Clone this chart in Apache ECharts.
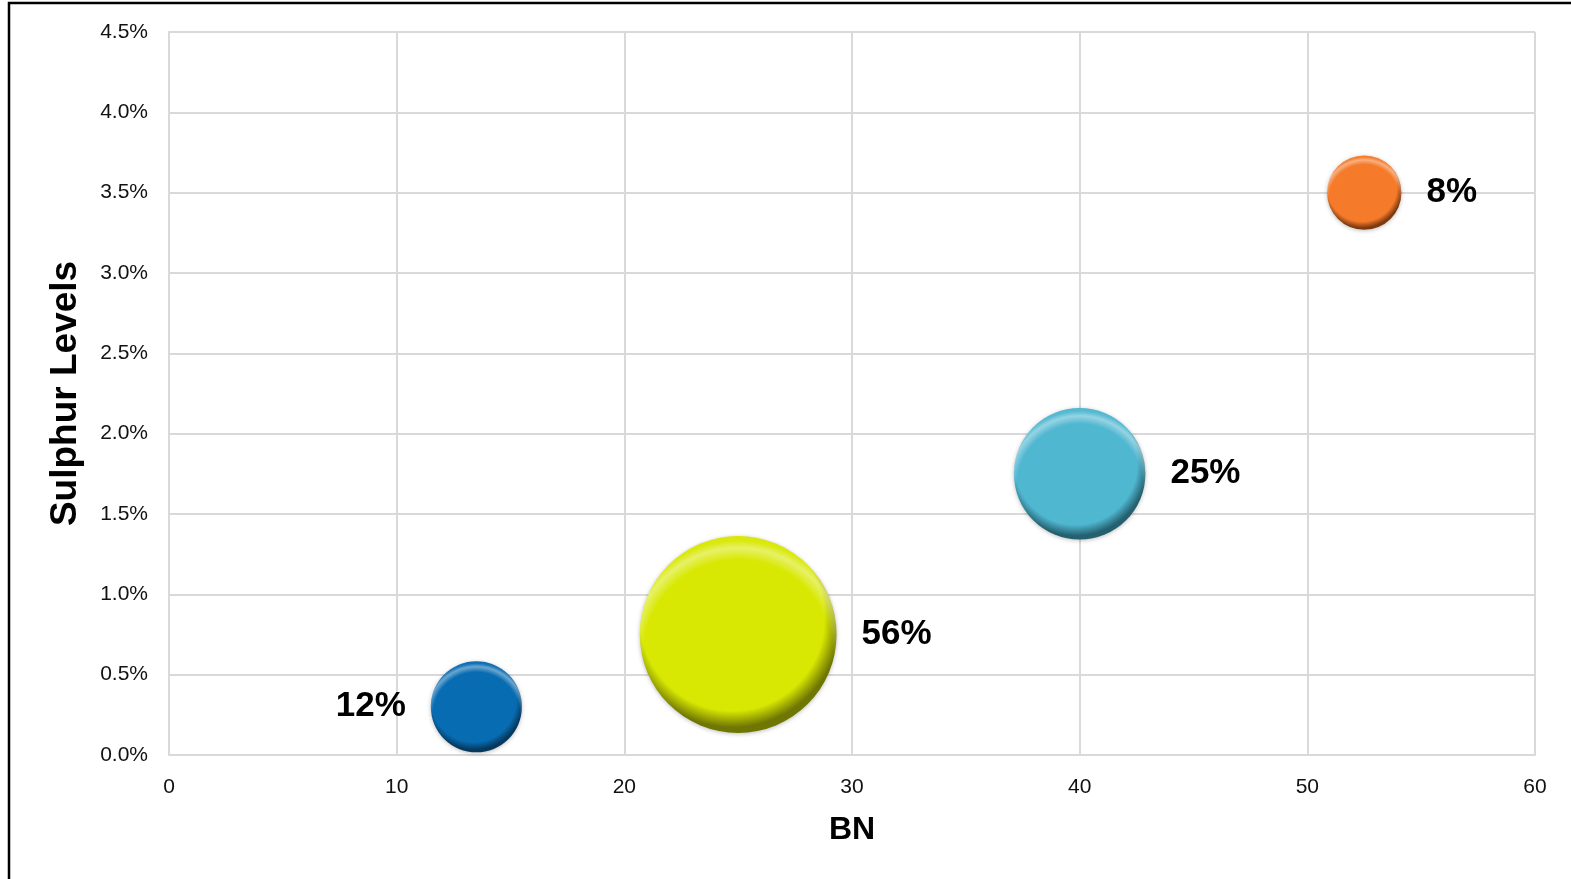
<!DOCTYPE html>
<html>
<head>
<meta charset="utf-8">
<title>BN vs Sulphur Levels</title>
<script src="https://cdn.jsdelivr.net/npm/echarts@6/dist/echarts.min.js"></script>
<style>
  html, body { margin: 0; padding: 0; background: #ffffff; }
  #chart { width: 1571px; height: 879px; }
</style>
</head>
<body>
<div id="chart"></div>
<script>
// Base number (x), sulphur content in % (y) and market share in % (bubble area)
const bnValues = [13.5, 25, 40, 52.5];
const sulphurPct = [0.3, 0.75, 1.75, 3.5];
const sharePct = [12, 56, 25, 8];

// Styling per bubble
const baseColors = ['#086cb2', '#d8e803', '#50b7d1', '#f57b2b'];
const edgeColors = ['#05395e', '#6f7602', '#24606f', '#7e3a0e'];
const labelSide = ['left', 'right', 'right', 'right'];

const diameterScale = 26.3; // bubble area proportional to share

const chart = echarts.init(document.getElementById('chart'));

const points = bnValues.map((bn, i) => [bn, sulphurPct[i], sharePct[i]]);

const baseData = points.map((p, i) => ({
  value: p,
  itemStyle: {
    color: {
      type: 'radial', x: 0.47, y: 0.42, r: 0.6,
      colorStops: [
        { offset: 0, color: baseColors[i] },
        { offset: 0.78, color: baseColors[i] },
        { offset: 0.92, color: edgeColors[i] },
        { offset: 1, color: edgeColors[i] }
      ]
    }
  },
  label: { position: labelSide[i] }
}));

const shineData = points.map((p) => ({
  value: p,
  itemStyle: {
    color: {
      type: 'radial', x: 0.5, y: 0.6, r: 0.6,
      colorStops: [
        { offset: 0, color: 'rgba(255,255,255,0)' },
        { offset: 0.8, color: 'rgba(255,255,255,0)' },
        { offset: 0.9, color: 'rgba(255,255,255,0.4)' },
        { offset: 0.96, color: 'rgba(255,255,255,0.05)' },
        { offset: 1, color: 'rgba(255,255,255,0)' }
      ]
    }
  }
}));

const sizeFn = (val) => diameterScale * Math.sqrt(val[2]);

chart.setOption({
  animation: false,
  backgroundColor: '#ffffff',
  textStyle: { fontFamily: '"Liberation Sans", Arial, sans-serif' },
  grid: { left: 169, right: 36, top: 32, bottom: 124, containLabel: false },
  xAxis: {
    type: 'value',
    min: 0, max: 60, interval: 10,
    name: 'BN',
    nameLocation: 'middle',
    nameGap: 59,
    nameTextStyle: { fontSize: 32, fontWeight: 'bold', color: '#000' },
    axisLine: { show: true, lineStyle: { color: '#d9d9d9', width: 2 } },
    axisTick: { show: false },
    splitLine: { show: true, lineStyle: { color: '#d9d9d9', width: 2 } },
    axisLabel: { fontSize: 21, color: '#111', margin: 22 }
  },
  yAxis: {
    type: 'value',
    min: 0, max: 4.5, interval: 0.5,
    name: 'Sulphur Levels',
    nameLocation: 'middle',
    nameGap: 85,
    nameTextStyle: { fontSize: 37, fontWeight: 'bold', color: '#000' },
    axisLine: { show: true, lineStyle: { color: '#d9d9d9', width: 2 } },
    axisTick: { show: false },
    splitLine: { show: true, lineStyle: { color: '#d9d9d9', width: 2 } },
    axisLabel: {
      fontSize: 21, color: '#111', margin: 21,
      formatter: (v) => v.toFixed(1) + '%'
    }
  },
  series: [
    {
      type: 'scatter',
      data: baseData,
      symbolSize: sizeFn,
      itemStyle: {
        opacity: 1,
        shadowBlur: 4,
        shadowColor: 'rgba(0,0,0,0.25)',
        shadowOffsetY: 1
      },
      label: {
        show: true,
        distance: 25,
        fontSize: 35,
        fontWeight: 'bold',
        color: '#000',
        formatter: (p) => p.value[2] + '%'
      },
      z: 3
    },
    {
      type: 'scatter',
      data: shineData,
      symbolSize: sizeFn,
      itemStyle: { opacity: 1 },
      silent: true,
      z: 4
    }
  ],
  graphic: [
    {
      type: 'rect',
      shape: { x: 9, y: 3, width: 1700, height: 1000 },
      style: { fill: 'none', stroke: '#000', lineWidth: 2.5 },
      silent: true,
      z: 10
    }
  ]
});
</script>
</body>
</html>
